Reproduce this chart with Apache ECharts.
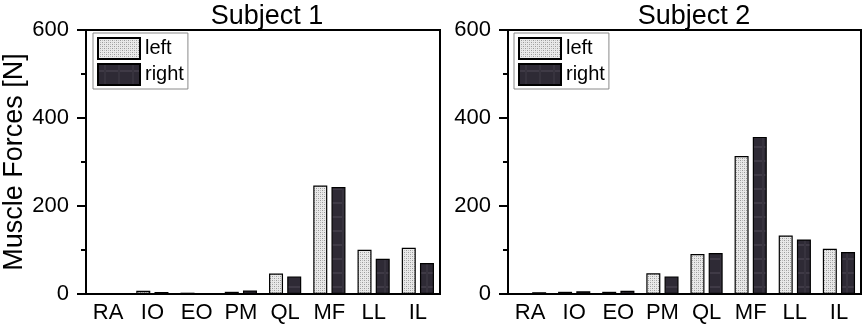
<!DOCTYPE html>
<html>
<head>
<meta charset="utf-8">
<script src="https://cdn.jsdelivr.net/npm/echarts@6/dist/echarts.min.js"></script>
<style>
  html, body { margin: 0; padding: 0; background: #fff; }
  #chart { width: 865px; height: 324px; }
</style>
</head>
<body>
<div id="chart"></div>
<script>
// muscles on the x axis
const muscles = ['RA', 'IO', 'EO', 'PM', 'QL', 'MF', 'LL', 'IL']
// forces [N]
const subject1Left = [0, 7.5, 3, 5, 46.5, 246.5, 100.5, 105]
const subject1Right = [2, 4.5, 1, 8, 40, 243, 80, 70.5]
const subject2Left = [0, 5, 5, 47, 91, 313.5, 133, 103]
const subject2Right = [4, 6, 7.5, 40, 93, 357, 124, 95.5]
const panelTitles = ['Subject 1', 'Subject 2']
const yTicks = [0, 200, 400, 600]

const FONT = "'Liberation Sans', Arial, sans-serif"

// small canvas tiles used as bar fills
function makeTile(w, h, draw) {
  const c = document.createElement('canvas')
  c.width = w
  c.height = h
  draw(c.getContext('2d'))
  return c
}
// light stipple for "left"
const leftTile = makeTile(4, 4, ctx => {
  ctx.fillStyle = '#e9e9e9'
  ctx.fillRect(0, 0, 4, 4)
  ctx.fillStyle = '#9a9a9a'
  ctx.fillRect(0, 0, 1, 1)
  ctx.fillRect(2, 2, 1, 1)
  ctx.fillStyle = '#bdbdbd'
  ctx.fillRect(2, 0, 1, 1)
  ctx.fillRect(0, 2, 1, 1)
})
// dark plaid for "right"
const rightTile = makeTile(14, 14, ctx => {
  ctx.fillStyle = '#2e2a35'
  ctx.fillRect(0, 0, 14, 14)
  ctx.fillStyle = '#3f3a46'
  ctx.fillRect(0, 6, 14, 2)
  ctx.fillStyle = '#37333e'
  ctx.fillRect(6, 0, 2, 14)
})
const leftFill = { image: leftTile, repeat: 'repeat' }
const rightFill = { image: rightTile, repeat: 'repeat' }

const chart = echarts.init(document.getElementById('chart'), null, { renderer: 'canvas' })

function xAxisFor(i) {
  return {
    type: 'category',
    gridIndex: i,
    data: muscles,
    axisLine: { lineStyle: { color: '#000', width: 2 } },
    axisTick: { show: false },
    axisLabel: { color: '#000', fontSize: 22, fontFamily: FONT, margin: 8, interval: 0 },
    splitLine: { show: false }
  }
}
function yAxisFor(i) {
  return {
    type: 'value',
    gridIndex: i,
    min: yTicks[0],
    max: yTicks[yTicks.length - 1],
    interval: 200,
    name: i === 0 ? 'Muscle Forces [N]' : '',
    nameLocation: 'middle',
    nameRotate: 90,
    nameGap: 50,
    nameTextStyle: { color: '#000', fontSize: 27, fontFamily: FONT },
    axisLine: { show: true, lineStyle: { color: '#000', width: 2 } },
    axisTick: { show: true, length: 9, lineStyle: { color: '#000', width: 2 } },
    minorTick: { show: true, splitNumber: 2, length: 5, lineStyle: { color: '#000', width: 2 } },
    axisLabel: { color: '#000', fontSize: 22, fontFamily: FONT, margin: 17 },
    splitLine: { show: false }
  }
}
function legendFor(left) {
  return {
    data: ['left', 'right'],
    orient: 'vertical',
    left: left,
    top: 33,
    itemWidth: 42,
    itemHeight: 21,
    itemGap: 3,
    padding: [4, 4, 3, 4],
    borderColor: '#8a8a8a',
    borderWidth: 1,
    icon: 'rect',
    selectedMode: false,
    textStyle: { color: '#000', fontSize: 20, fontFamily: FONT }
  }
}
function barSeries(name, data, fill, i) {
  return {
    name: name,
    type: 'bar',
    xAxisIndex: i,
    yAxisIndex: i,
    data: data,
    barWidth: 14,
    barGap: '30%',
    itemStyle: { color: fill, borderColor: '#000', borderWidth: 1.2 },
    emphasis: { disabled: true }
  }
}

const option = {
  animation: false,
  backgroundColor: '#fff',
  title: [
    {
      text: panelTitles[0], left: 267, top: 3, textAlign: 'center', padding: 0,
      textStyle: { color: '#000', fontSize: 27, fontWeight: 'normal', fontFamily: FONT }
    },
    {
      text: panelTitles[1], left: 694, top: 3, textAlign: 'center', padding: 0,
      textStyle: { color: '#000', fontSize: 27, fontWeight: 'normal', fontFamily: FONT }
    }
  ],
  legend: [legendFor(93), legendFor(514)],
  grid: [
    { left: 86, right: 425, top: 30, bottom: 30, show: true, borderColor: '#000', borderWidth: 2, backgroundColor: 'transparent' },
    { left: 508, right: 4, top: 30, bottom: 30, show: true, borderColor: '#000', borderWidth: 2, backgroundColor: 'transparent' }
  ],
  xAxis: [xAxisFor(0), xAxisFor(1)],
  yAxis: [yAxisFor(0), yAxisFor(1)],
  series: [
    barSeries('left', subject1Left, leftFill, 0),
    barSeries('right', subject1Right, rightFill, 0),
    barSeries('left', subject2Left, leftFill, 1),
    barSeries('right', subject2Right, rightFill, 1)
  ]
}

chart.setOption(option)
</script>
</body>
</html>
